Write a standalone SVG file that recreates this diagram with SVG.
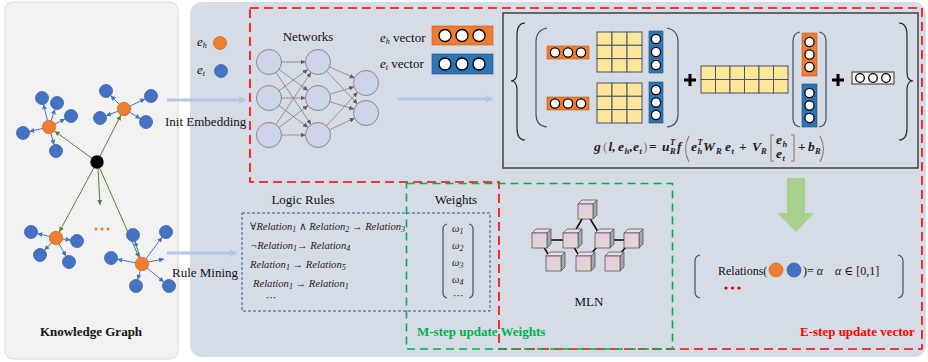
<svg xmlns="http://www.w3.org/2000/svg" width="928" height="362" viewBox="0 0 928 362">
<defs>
<style>
.t{font-family:"Liberation Serif","Times New Roman","DejaVu Serif",serif;font-size:13px;fill:#111}
.it{font-style:italic}
.mi{font-family:"Liberation Serif","Times New Roman","DejaVu Serif",serif;font-style:italic;font-size:10.6px;fill:#222}
.sb{font-size:8px}
.fm{font-family:"Liberation Serif","Times New Roman","DejaVu Serif",serif;font-style:italic;font-weight:bold;font-size:13.5px;fill:#222}
.fs{font-size:8.5px}
.fp{font-weight:normal;font-style:normal;fill:#8c7b70}
.fn{font-style:normal}
.bn{fill:#4472c4;stroke:#3a62a8;stroke-width:0.8}
.on{fill:#ed7d31;stroke:#d86a20;stroke-width:0.8}
.bl{stroke:#4472c4;stroke-width:1;fill:none}
.gl{stroke:#548235;stroke-width:1;fill:none}
.nn{fill:url(#gN);stroke:#8a8a8a;stroke-width:1}
.ne{stroke:#808080;stroke-width:0.8;fill:none}
.wc{fill:#fff;stroke:#000;stroke-width:1.3}
.ov{fill:#ed7d31;stroke:#c55a11;stroke-width:0.6}
.bv{fill:#2e75b6;stroke:#1f4e79;stroke-width:0.6}
.mx{fill:#ffe699;stroke:#44546a;stroke-width:1}
.par{fill:none;stroke:#44546a;stroke-width:1.2}
.brc{fill:none;stroke:#222;stroke-width:1.2}
.la{stroke:#b4c7e7;stroke-width:3;fill:none}
.cf{fill:url(#gC);stroke:#595959;stroke-width:0.8}
.ct{fill:#eadcea;stroke:#595959;stroke-width:0.8}
.cs{fill:#a6a6b0;stroke:#595959;stroke-width:0.8}
.ml{stroke:#111;stroke-width:1.6}
</style>
<linearGradient id="gN" x1="0" y1="0" x2="1" y2="1">
<stop offset="0" stop-color="#d9cdea"/><stop offset="1" stop-color="#c3dbea"/>
</linearGradient>
<linearGradient id="gC" x1="0" y1="0" x2="1" y2="1">
<stop offset="0" stop-color="#e6c6e8"/><stop offset="1" stop-color="#e2dcc8"/>
</linearGradient>
<marker id="mB" viewBox="0 0 10 10" refX="23" refY="5" markerWidth="5" markerHeight="5" markerUnits="userSpaceOnUse" orient="auto"><path d="M0,0 L10,5 L0,10 z" fill="#4472c4"/></marker>
<marker id="mBf" viewBox="0 0 10 10" refX="10" refY="5" markerWidth="5" markerHeight="5" markerUnits="userSpaceOnUse" orient="auto"><path d="M0,0 L10,5 L0,10 z" fill="#4472c4"/></marker>
<marker id="mG" viewBox="0 0 10 10" refX="24" refY="5" markerWidth="5" markerHeight="5" markerUnits="userSpaceOnUse" orient="auto"><path d="M0,0 L10,5 L0,10 z" fill="#548235"/></marker>
<marker id="mGf" viewBox="0 0 10 10" refX="10" refY="5" markerWidth="5" markerHeight="5" markerUnits="userSpaceOnUse" orient="auto"><path d="M0,0 L10,5 L0,10 z" fill="#548235"/></marker>
<marker id="mN" viewBox="0 0 10 10" refX="35" refY="5" markerWidth="5" markerHeight="5" markerUnits="userSpaceOnUse" orient="auto"><path d="M0,0 L10,5 L0,10 z" fill="#606060"/></marker>
<marker id="mL" viewBox="0 0 10 10" refX="8" refY="5" markerWidth="8" markerHeight="8" markerUnits="userSpaceOnUse" orient="auto"><path d="M0,0 L10,5 L0,10 z" fill="#b4c7e7"/></marker>
</defs>

<!-- panels -->
<rect x="5" y="2" width="173" height="357" rx="8" fill="#f2f2f2" stroke="#dcdcdc" stroke-width="1"/>
<rect x="190" y="2" width="736" height="355" rx="12" fill="#d6dce5"/>

<!-- dashed regions -->
<path d="M250 8 H922 V349 H499 V182 H250 Z" fill="none" stroke="#ff0000" stroke-width="1.6" stroke-dasharray="9 5"/>
<rect x="406.5" y="183.5" width="266" height="165.5" fill="none" stroke="#00b050" stroke-width="1.6" stroke-dasharray="8 5"/>
<rect x="242" y="213" width="248" height="98" fill="none" stroke="#2f5597" stroke-width="1" stroke-dasharray="3 2"/>

<!-- connectors -->
<g id="connectors">
<line class="gl" x1="97" y1="162" x2="49" y2="127" marker-end="url(#mG)"/>
<line class="gl" x1="97" y1="162" x2="124" y2="109" marker-end="url(#mG)"/>
<line class="gl" x1="97" y1="162" x2="56" y2="238" marker-end="url(#mG)"/>
<line class="gl" x1="97" y1="162" x2="142" y2="264" marker-end="url(#mG)"/>
<line class="gl" x1="98" y1="168" x2="100" y2="205" marker-end="url(#mGf)"/>
<line class="bl" x1="49" y1="127" x2="42" y2="98" marker-end="url(#mB)"/>
<line class="bl" x1="49" y1="127" x2="57" y2="103" marker-end="url(#mB)"/>
<line class="bl" x1="49" y1="127" x2="71" y2="116" marker-end="url(#mB)"/>
<line class="bl" x1="49" y1="127" x2="23" y2="133" marker-end="url(#mB)"/>
<line class="bl" x1="49" y1="127" x2="56" y2="151" marker-end="url(#mB)"/>
<line class="bl" x1="124" y1="109" x2="106" y2="91" marker-end="url(#mB)"/>
<line class="bl" x1="124" y1="109" x2="151" y2="96" marker-end="url(#mB)"/>
<line class="bl" x1="124" y1="109" x2="100" y2="118" marker-end="url(#mB)"/>
<line class="bl" x1="124" y1="109" x2="146" y2="122" marker-end="url(#mB)"/>
<line class="bl" x1="56" y1="238" x2="31" y2="232" marker-end="url(#mB)"/>
<line class="bl" x1="56" y1="238" x2="77" y2="241" marker-end="url(#mB)"/>
<line class="bl" x1="56" y1="238" x2="40" y2="255" marker-end="url(#mB)"/>
<line class="bl" x1="56" y1="238" x2="69" y2="262" marker-end="url(#mB)"/>
<line class="bl" x1="142" y1="264" x2="133" y2="235" marker-end="url(#mB)"/>
<line class="bl" x1="142" y1="264" x2="166" y2="232" marker-end="url(#mB)"/>
<line class="bl" x1="142" y1="264" x2="111" y2="258" marker-end="url(#mB)"/>
<line class="bl" x1="142" y1="264" x2="136" y2="286" marker-end="url(#mB)"/>
<line class="bl" x1="142" y1="264" x2="169" y2="286" marker-end="url(#mB)"/>
<line class="bl" x1="148" y1="262" x2="164" y2="259" marker-end="url(#mBf)"/>
<line class="la" x1="167" y1="100" x2="245" y2="100" marker-end="url(#mL)"/>
<line class="la" x1="398" y1="99" x2="492" y2="99" marker-end="url(#mL)"/>
<line class="la" x1="167" y1="253" x2="236" y2="253" marker-end="url(#mL)"/>
<g class="ne">
<line x1="269" y1="62" x2="318" y2="62" marker-end="url(#mN)"/>
<line x1="269" y1="62" x2="318" y2="98" marker-end="url(#mN)"/>
<line x1="269" y1="62" x2="318" y2="135" marker-end="url(#mN)"/>
<line x1="269" y1="98" x2="318" y2="62" marker-end="url(#mN)"/>
<line x1="269" y1="98" x2="318" y2="98" marker-end="url(#mN)"/>
<line x1="269" y1="98" x2="318" y2="135" marker-end="url(#mN)"/>
<line x1="269" y1="135" x2="318" y2="62" marker-end="url(#mN)"/>
<line x1="269" y1="135" x2="318" y2="98" marker-end="url(#mN)"/>
<line x1="269" y1="135" x2="318" y2="135" marker-end="url(#mN)"/>
<line x1="318" y1="62" x2="366" y2="83" marker-end="url(#mN)"/>
<line x1="318" y1="62" x2="366" y2="113" marker-end="url(#mN)"/>
<line x1="318" y1="98" x2="366" y2="83" marker-end="url(#mN)"/>
<line x1="318" y1="98" x2="366" y2="113" marker-end="url(#mN)"/>
<line x1="318" y1="135" x2="366" y2="83" marker-end="url(#mN)"/>
<line x1="318" y1="135" x2="366" y2="113" marker-end="url(#mN)"/>
</g>
<g class="ml">
<line x1="586" y1="212" x2="570" y2="240"/>
<line x1="586" y1="212" x2="603" y2="240"/>
<line x1="540" y1="240" x2="570" y2="240"/>
<line x1="603" y1="240" x2="632" y2="240"/>
<line x1="540" y1="240" x2="553" y2="263"/>
<line x1="570" y1="240" x2="583" y2="263"/>
<line x1="603" y1="240" x2="583" y2="263"/>
<line x1="632" y1="240" x2="612" y2="263"/>
</g>
</g>

<!-- knowledge graph nodes -->
<g id="kg-nodes">
<circle class="bn" cx="42" cy="98" r="6.5"/><circle class="bn" cx="57" cy="103" r="6.5"/><circle class="bn" cx="71" cy="116" r="6.5"/><circle class="bn" cx="23" cy="133" r="6.5"/><circle class="bn" cx="56" cy="151" r="6.5"/>
<circle class="bn" cx="106" cy="91" r="6.5"/><circle class="bn" cx="151" cy="96" r="6.5"/><circle class="bn" cx="100" cy="118" r="6.5"/><circle class="bn" cx="146" cy="122" r="6.5"/>
<circle class="bn" cx="31" cy="232" r="6.5"/><circle class="bn" cx="77" cy="241" r="6.5"/><circle class="bn" cx="40" cy="255" r="6.5"/><circle class="bn" cx="69" cy="262" r="6.5"/>
<circle class="bn" cx="133" cy="235" r="6.5"/><circle class="bn" cx="166" cy="232" r="6.5"/><circle class="bn" cx="111" cy="258" r="6.5"/><circle class="bn" cx="136" cy="286" r="6.5"/><circle class="bn" cx="169" cy="286" r="6.5"/>
<circle class="on" cx="49" cy="127" r="6.7"/><circle class="on" cx="124" cy="109" r="6.7"/><circle class="on" cx="56" cy="238" r="6.7"/><circle class="on" cx="142" cy="264" r="6.7"/>
<circle cx="97" cy="162" r="6.7" fill="#000"/>
<circle cx="96" cy="229" r="1.5" fill="#ed7d31"/><circle cx="102" cy="229" r="1.5" fill="#ed7d31"/><circle cx="108" cy="229" r="1.5" fill="#ed7d31"/>
<text class="t" x="91" y="336" text-anchor="middle" font-weight="bold">Knowledge Graph</text>
</g>

<g id="labels-arrows">
<text class="t" x="165" y="126">Init Embedding</text>
<text class="t" x="172" y="277">Rule Mining</text>
</g>

<g id="legend">
<text class="t it" x="197" y="46">e<tspan class="sb" dy="2">h</tspan></text>
<circle class="on" cx="220" cy="43" r="6.5"/>
<text class="t it" x="197" y="74">e<tspan class="sb" dy="2">t</tspan></text>
<circle class="bn" cx="221" cy="71" r="6.5"/>
</g>

<g id="networks">
<text class="t" x="308" y="41" text-anchor="middle">Networks</text>
<circle class="nn" cx="269" cy="62" r="12.5"/><circle class="nn" cx="269" cy="98" r="12.5"/><circle class="nn" cx="269" cy="135" r="12.5"/>
<circle class="nn" cx="318" cy="62" r="12.5"/><circle class="nn" cx="318" cy="98" r="12.5"/><circle class="nn" cx="318" cy="135" r="12.5"/>
<circle class="nn" cx="366" cy="83" r="12.5"/><circle class="nn" cx="366" cy="113" r="12.5"/>
</g>

<g id="vectors">
<text class="t" x="380" y="42"><tspan class="it">e</tspan><tspan class="sb it" dy="2">h</tspan><tspan dy="-2"> vector</tspan></text>
<rect class="ov" x="432" y="26" width="61" height="19"/>
<circle class="wc" cx="445" cy="35.5" r="6"/><circle class="wc" cx="462" cy="35.5" r="6"/><circle class="wc" cx="479" cy="35.5" r="6"/>
<text class="t" x="380" y="68"><tspan class="it">e</tspan><tspan class="sb it" dy="2">t</tspan><tspan dy="-2"> vector</tspan></text>
<rect class="bv" x="432" y="54" width="61" height="20"/>
<circle class="wc" cx="445" cy="64" r="6"/><circle class="wc" cx="462" cy="64" r="6"/><circle class="wc" cx="479" cy="64" r="6"/>
</g>

<g id="formula">
<rect x="503" y="13" width="415" height="155" fill="#d6dce5" stroke="#404040" stroke-width="1.5"/>
<path class="brc" d="M525 23 Q517 23 517 35 L517 72 Q517 81 511 81 Q517 81 517 90 L517 128 Q517 140 525 140"/>
<path class="brc" d="M899 23 Q907 23 907 35 L907 72 Q907 81 913 81 Q907 81 907 90 L907 128 Q907 140 899 140"/>
<path class="par" d="M547 28 Q536 30 536 42 L536 114 Q536 126 547 127"/>
<path class="par" d="M667 28 Q678 30 678 42 L678 114 Q678 126 667 127"/>
<rect class="ov" x="547" y="46" width="42" height="13"/>
<circle class="wc" cx="555" cy="52.5" r="4.6"/><circle class="wc" cx="568" cy="52.5" r="4.6"/><circle class="wc" cx="581" cy="52.5" r="4.6"/>
<g class="mx"><rect x="597" y="32" width="15" height="13.3"/><rect x="612" y="32" width="15" height="13.3"/><rect x="627" y="32" width="15" height="13.3"/>
<rect x="597" y="45.3" width="15" height="13.3"/><rect x="612" y="45.3" width="15" height="13.3"/><rect x="627" y="45.3" width="15" height="13.3"/>
<rect x="597" y="58.6" width="15" height="13.4"/><rect x="612" y="58.6" width="15" height="13.4"/><rect x="627" y="58.6" width="15" height="13.4"/></g>
<rect class="bv" x="649" y="31" width="14" height="42"/>
<circle class="wc" cx="656" cy="39" r="4.6"/><circle class="wc" cx="656" cy="52" r="4.6"/><circle class="wc" cx="656" cy="65" r="4.6"/>
<rect class="ov" x="547" y="97" width="42" height="13"/>
<circle class="wc" cx="555" cy="103.5" r="4.6"/><circle class="wc" cx="568" cy="103.5" r="4.6"/><circle class="wc" cx="581" cy="103.5" r="4.6"/>
<g class="mx"><rect x="597" y="83" width="15" height="13.3"/><rect x="612" y="83" width="15" height="13.3"/><rect x="627" y="83" width="15" height="13.3"/>
<rect x="597" y="96.3" width="15" height="13.3"/><rect x="612" y="96.3" width="15" height="13.3"/><rect x="627" y="96.3" width="15" height="13.3"/>
<rect x="597" y="109.6" width="15" height="13.4"/><rect x="612" y="109.6" width="15" height="13.4"/><rect x="627" y="109.6" width="15" height="13.4"/></g>
<rect class="bv" x="649" y="82" width="14" height="41"/>
<circle class="wc" cx="656" cy="90" r="4.6"/><circle class="wc" cx="656" cy="102.5" r="4.6"/><circle class="wc" cx="656" cy="115" r="4.6"/>
<path d="M684 80 H696 M690 74 V86" stroke="#000" stroke-width="3"/>
<g class="mx"><rect x="701" y="66" width="14.5" height="13.5"/><rect x="715.5" y="66" width="14.5" height="13.5"/><rect x="730" y="66" width="14.5" height="13.5"/><rect x="744.5" y="66" width="14.5" height="13.5"/><rect x="759" y="66" width="14.5" height="13.5"/><rect x="773.5" y="66" width="14.5" height="13.5"/>
<rect x="701" y="79.5" width="14.5" height="13.5"/><rect x="715.5" y="79.5" width="14.5" height="13.5"/><rect x="730" y="79.5" width="14.5" height="13.5"/><rect x="744.5" y="79.5" width="14.5" height="13.5"/><rect x="759" y="79.5" width="14.5" height="13.5"/><rect x="773.5" y="79.5" width="14.5" height="13.5"/></g>
<path class="par" d="M800 32 Q793 33 793 42 L793 118 Q793 126 800 127"/>
<path class="par" d="M819 32 Q826 33 826 42 L826 118 Q826 126 819 127"/>
<rect class="ov" x="802" y="33" width="15" height="43"/>
<circle class="wc" cx="809.5" cy="42" r="4.6"/><circle class="wc" cx="809.5" cy="54.5" r="4.6"/><circle class="wc" cx="809.5" cy="67" r="4.6"/>
<rect class="bv" x="802" y="84" width="15" height="43"/>
<circle class="wc" cx="809.5" cy="93" r="4.6"/><circle class="wc" cx="809.5" cy="105.5" r="4.6"/><circle class="wc" cx="809.5" cy="118" r="4.6"/>
<path d="M832 80 H844 M838 74 V86" stroke="#000" stroke-width="3"/>
<rect x="852" y="72" width="42" height="12" fill="#f2f2f2" stroke="#333" stroke-width="1"/>
<circle class="wc" cx="860" cy="78" r="4.3"/><circle class="wc" cx="873" cy="78" r="4.3"/><circle class="wc" cx="886" cy="78" r="4.3"/>
<text class="fm">
<tspan x="594" y="151">g</tspan><tspan class="fp" x="603" y="151">(</tspan><tspan x="608.5" y="151">l,</tspan><tspan x="618" y="151">e</tspan><tspan class="fs" x="624.5" y="154">h</tspan><tspan x="629.5" y="151">,</tspan><tspan x="633" y="151">e</tspan><tspan class="fs" x="639.5" y="154">t</tspan><tspan class="fp" x="643" y="151">)</tspan>
<tspan class="fn" x="649" y="151">=</tspan>
<tspan x="662" y="151">u</tspan><tspan class="fs" x="670" y="154">R</tspan><tspan class="fs" x="670" y="145">T</tspan><tspan x="677" y="151">f</tspan>
<tspan x="691" y="151">e</tspan><tspan class="fs" x="697.5" y="154">h</tspan><tspan class="fs" x="697.5" y="145">T</tspan>
<tspan x="703" y="151">W</tspan><tspan class="fs" x="716" y="154">R</tspan><tspan x="725" y="151">e</tspan><tspan class="fs" x="731.5" y="154">t</tspan>
<tspan class="fn" x="739" y="151">+</tspan>
<tspan x="752" y="151">V</tspan><tspan class="fs" x="761" y="154">R</tspan>
<tspan x="776" y="144">e</tspan><tspan class="fs" x="782.5" y="147">h</tspan>
<tspan x="776" y="158">e</tspan><tspan class="fs" x="782.5" y="161">t</tspan>
<tspan class="fn" x="798" y="151">+</tspan>
<tspan x="808" y="151">b</tspan><tspan class="fs" x="815" y="154">R</tspan>
</text>
<path d="M689 136 Q682 149 689 162" fill="none" stroke="#8c7b70" stroke-width="1.1"/>
<path d="M774 135 H771 V161 H774 M791 135 H794 V161 H791" fill="none" stroke="#8c7b70" stroke-width="1.1"/>
<path d="M820 136 Q827 149 820 162" fill="none" stroke="#8c7b70" stroke-width="1.1"/>
</g>

<g id="logic-rules">
<text class="t" x="303" y="204" text-anchor="middle">Logic Rules</text>
<text class="mi" x="250" y="230">∀Relation<tspan class="sb" dy="2">1</tspan><tspan dy="-2"> ∧ Relation</tspan><tspan class="sb" dy="2">2</tspan><tspan dy="-2"> → Relation</tspan><tspan class="sb" dy="2">3</tspan></text>
<text class="mi" x="250" y="249">¬Relation<tspan class="sb" dy="2">1</tspan><tspan dy="-2">→ Relation</tspan><tspan class="sb" dy="2">4</tspan></text>
<text class="mi" x="250" y="268">Relation<tspan class="sb" dy="2">1</tspan><tspan dy="-2"> → Relation</tspan><tspan class="sb" dy="2">5</tspan></text>
<text class="mi" x="253" y="287">Relation<tspan class="sb" dy="2">1</tspan><tspan dy="-2"> → Relation</tspan><tspan class="sb" dy="2">1</tspan></text>
<text class="mi" x="265" y="301">⋯</text>
</g>

<g id="weights">
<text class="t" x="456" y="204" text-anchor="middle">Weights</text>
<path class="par" d="M447 224 Q443 225 443 229 L443 293 Q443 297 447 298"/>
<path class="par" d="M469 224 Q473 225 473 229 L473 293 Q473 297 469 298"/>
<text class="mi" x="452" y="232">ω<tspan class="sb" dy="2">1</tspan></text>
<text class="mi" x="452" y="249">ω<tspan class="sb" dy="2">2</tspan></text>
<text class="mi" x="452" y="266">ω<tspan class="sb" dy="2">3</tspan></text>
<text class="mi" x="452" y="283">ω<tspan class="sb" dy="2">4</tspan></text>
<text class="mi" x="452" y="299">⋯</text>
</g>

<g id="mln">
<g id="cube-top"><path class="ct" d="M578 204 L582 200 L597 200 L593 204 Z"/><path class="cs" d="M593 204 L597 200 L597 215 L593 219 Z"/><rect class="cf" x="578" y="204" width="15" height="15"/></g>
<g id="cube-r2a"><path class="ct" d="M532 233 L536 229 L551 229 L547 233 Z"/><path class="cs" d="M547 233 L551 229 L551 244 L547 248 Z"/><rect class="cf" x="532" y="233" width="15" height="15"/></g>
<g id="cube-r2b"><path class="ct" d="M563 233 L567 229 L582 229 L578 233 Z"/><path class="cs" d="M578 233 L582 229 L582 244 L578 248 Z"/><rect class="cf" x="563" y="233" width="15" height="15"/></g>
<g id="cube-r2c"><path class="ct" d="M595 233 L599 229 L614 229 L610 233 Z"/><path class="cs" d="M610 233 L614 229 L614 244 L610 248 Z"/><rect class="cf" x="595" y="233" width="15" height="15"/></g>
<g id="cube-r2d"><path class="ct" d="M624 233 L628 229 L643 229 L639 233 Z"/><path class="cs" d="M639 233 L643 229 L643 244 L639 248 Z"/><rect class="cf" x="624" y="233" width="15" height="15"/></g>
<g id="cube-r3a"><path class="ct" d="M546 256 L550 252 L565 252 L561 256 Z"/><path class="cs" d="M561 256 L565 252 L565 267 L561 271 Z"/><rect class="cf" x="546" y="256" width="15" height="15"/></g>
<g id="cube-r3b"><path class="ct" d="M576 256 L580 252 L595 252 L591 256 Z"/><path class="cs" d="M591 256 L595 252 L595 267 L591 271 Z"/><rect class="cf" x="576" y="256" width="15" height="15"/></g>
<g id="cube-r3c"><path class="ct" d="M605 256 L609 252 L624 252 L620 256 Z"/><path class="cs" d="M620 256 L624 252 L624 267 L620 271 Z"/><rect class="cf" x="605" y="256" width="15" height="15"/></g>
<text class="t" x="589" y="306" text-anchor="middle">MLN</text>
</g>

<g id="m-step">
<text class="t" x="417" y="336" font-weight="bold" style="fill:#00b050">M-step update Weights</text>
</g>

<g id="e-step">
<path d="M787 178 H805 V213 H814 L796 232 L777 213 H787 Z" fill="#a9d18e"/>
<path class="par" d="M700 255 Q695 256 695 261 L695 292 Q695 297 700 298"/>
<path class="par" d="M898 255 Q903 256 903 261 L903 292 Q903 297 898 298"/>
<text class="t" x="718" y="275" style="font-size:12px">Relations(</text>
<circle class="on" cx="776" cy="270" r="7"/>
<circle class="bn" cx="794" cy="270" r="7"/>
<text class="t" x="803" y="275" style="font-size:12px">)= <tspan class="it">α</tspan><tspan dx="12" class="it">α</tspan> ∈ [0,1]</text>
<circle cx="726" cy="288" r="1.6" fill="#e00000"/><circle cx="732.5" cy="288" r="1.6" fill="#e00000"/><circle cx="739" cy="288" r="1.6" fill="#e00000"/>
<text class="t" x="800" y="336" font-weight="bold" style="fill:#ff0000">E-step update vector</text>
</g>
</svg>
